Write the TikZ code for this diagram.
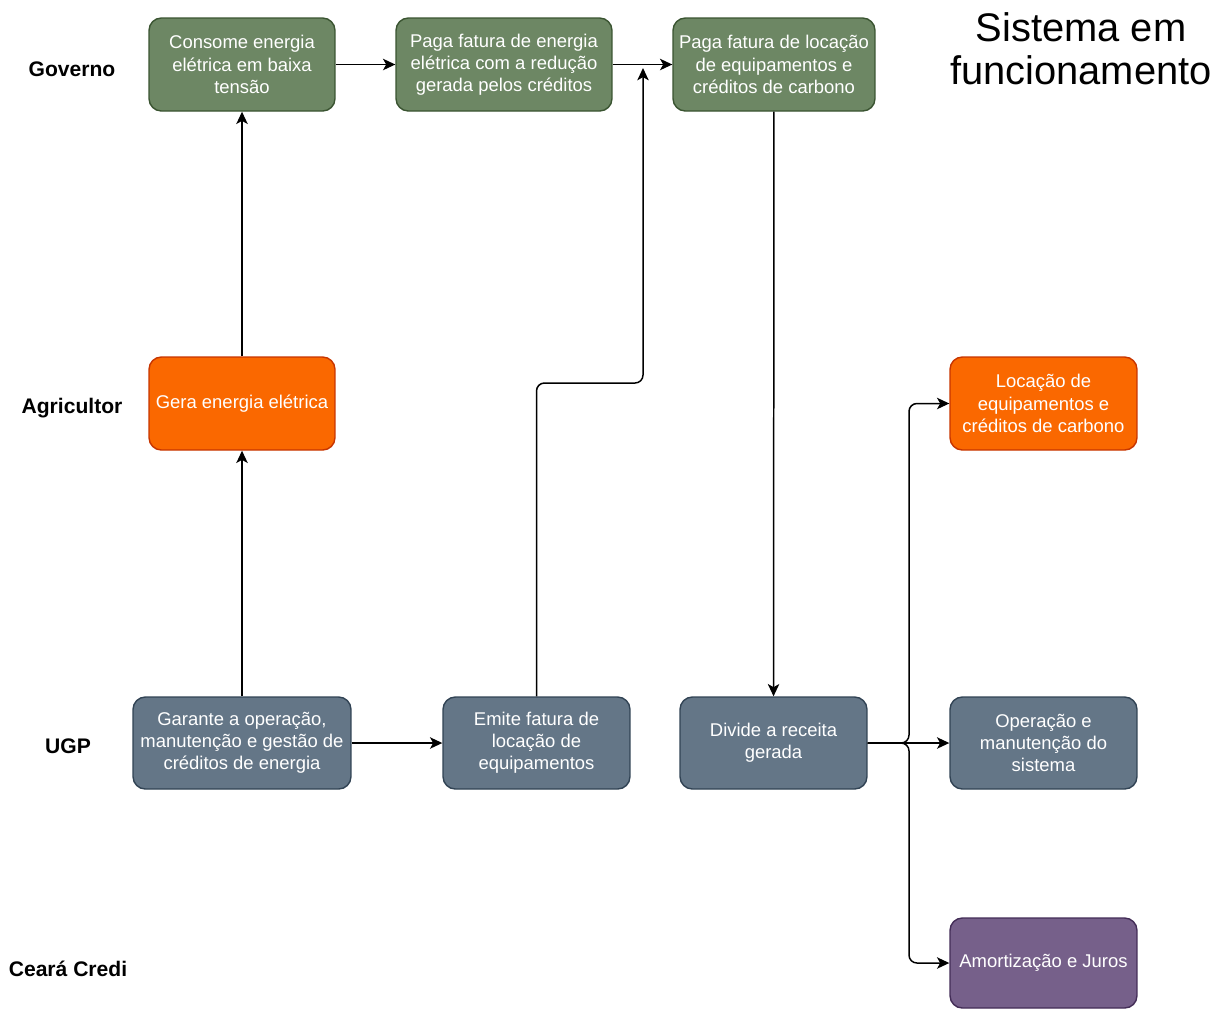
\documentclass[tikz,border=0pt]{standalone}
\usepackage{fontspec}
\setmainfont{Liberation Sans}
\usetikzlibrary{arrows.meta}

\definecolor{govfill}{HTML}{6D8764}
\definecolor{govline}{HTML}{3A5431}
\definecolor{agrfill}{HTML}{FA6800}
\definecolor{agrline}{HTML}{C73500}
\definecolor{ugpfill}{HTML}{647687}
\definecolor{ugpline}{HTML}{314354}
\definecolor{crdfill}{HTML}{76608A}
\definecolor{crdline}{HTML}{432D57}

\tikzset{
  box/.style={draw, line width=0.8pt, rounded corners=7pt, align=center,
    text=white, inner sep=2pt,
    font=\fontsize{10.5}{12.6}\selectfont},
  govbox/.style={box, fill=govfill, draw=govline},
  agrbox/.style={box, fill=agrfill, draw=agrline},
  ugpbox/.style={box, fill=ugpfill, draw=ugpline},
  crdbox/.style={box, fill=crdfill, draw=crdline},
  lane/.style={font=\bfseries\fontsize{12}{14}\selectfont, anchor=center},
  arr/.style={draw=black, line width=0.85pt,
    -{Stealth[length=7pt, width=6.5pt, inset=1.8pt]}},
  link/.style={arr, rounded corners=4.5pt}
}

\begin{document}
\begin{tikzpicture}[x=0.02cm, y=-0.02cm]
  \useasboundingbox (0,0) rectangle (1228,1009);

  % lane labels
  \node[lane] (lgov) at (72,69)  {Governo};
  \node[lane] (lagr) at (72,408) {Agricultor};
  \node[lane] (lugp) at (68,746) {UGP};
  \node[lane] (lcrd) at (68,969) {Ceará Credi};

  % title
  \node[align=center, font=\fontsize{22.7}{24.5}\selectfont] (title) at (1081,49)
    {Sistema em\\funcionamento};

  % Governo
  \node[govbox, minimum width=3.72cm, minimum height=1.86cm] (consome) at (242,64.5)
    {Consome energia\\elétrica em baixa\\tensão};
  \node[govbox, minimum width=4.32cm, minimum height=1.86cm] (pagaE) at (504,64.5)
    {Paga fatura de energia\\elétrica com a redução\\gerada pelos créditos};
  \node[govbox, minimum width=4.04cm, minimum height=1.86cm] (pagaL) at (774,64.5)
    {Paga fatura de locação\\de equipamentos e\\créditos de carbono};

  % Agricultor
  \node[agrbox, minimum width=3.72cm, minimum height=1.86cm] (gera) at (242,403.5)
    {Gera energia elétrica};
  \node[agrbox, minimum width=3.74cm, minimum height=1.86cm] (locacao) at (1043.5,403.5)
    {Locação de\\equipamentos e\\créditos de carbono};

  % UGP
  \node[ugpbox, minimum width=4.36cm, minimum height=1.84cm] (garante) at (242,743)
    {Garante a operação,\\manutenção e gestão de\\créditos de energia};
  \node[ugpbox, minimum width=3.74cm, minimum height=1.84cm] (emite) at (536.5,743)
    {Emite fatura de\\locação de\\equipamentos};
  \node[ugpbox, minimum width=3.74cm, minimum height=1.84cm] (divide) at (773.5,743)
    {Divide a receita\\gerada};
  \node[ugpbox, minimum width=3.74cm, minimum height=1.84cm] (operacao) at (1043.5,743)
    {Operação e\\manutenção do\\sistema};

  % Ceará Credi
  \node[crdbox, minimum width=3.74cm, minimum height=1.8cm] (amort) at (1043.5,963)
    {Amortização e Juros};

  % helper points for the routed connectors
  \coordinate (tipE)  at (643,68);
  \coordinate (bendE) at (643,383);
  \coordinate (split) at (909,743);

  % connectors
  \draw[arr] (garante) -- (gera);
  \draw[arr] (gera) -- (consome);
  \draw[arr] (consome) -- (pagaE);
  \draw[arr] (pagaE) -- (pagaL);
  \draw[arr] (garante) -- (emite);
  \draw[link] (emite.north) |- (bendE) -- (tipE);
  \draw[arr] (pagaL) -- (divide);
  \draw[link] (divide.east) -- (split) |- (locacao.west);
  \draw[link] (divide.east) -- (split) |- (amort.west);
  \draw[arr] (divide) -- (operacao);
\end{tikzpicture}
\end{document}
